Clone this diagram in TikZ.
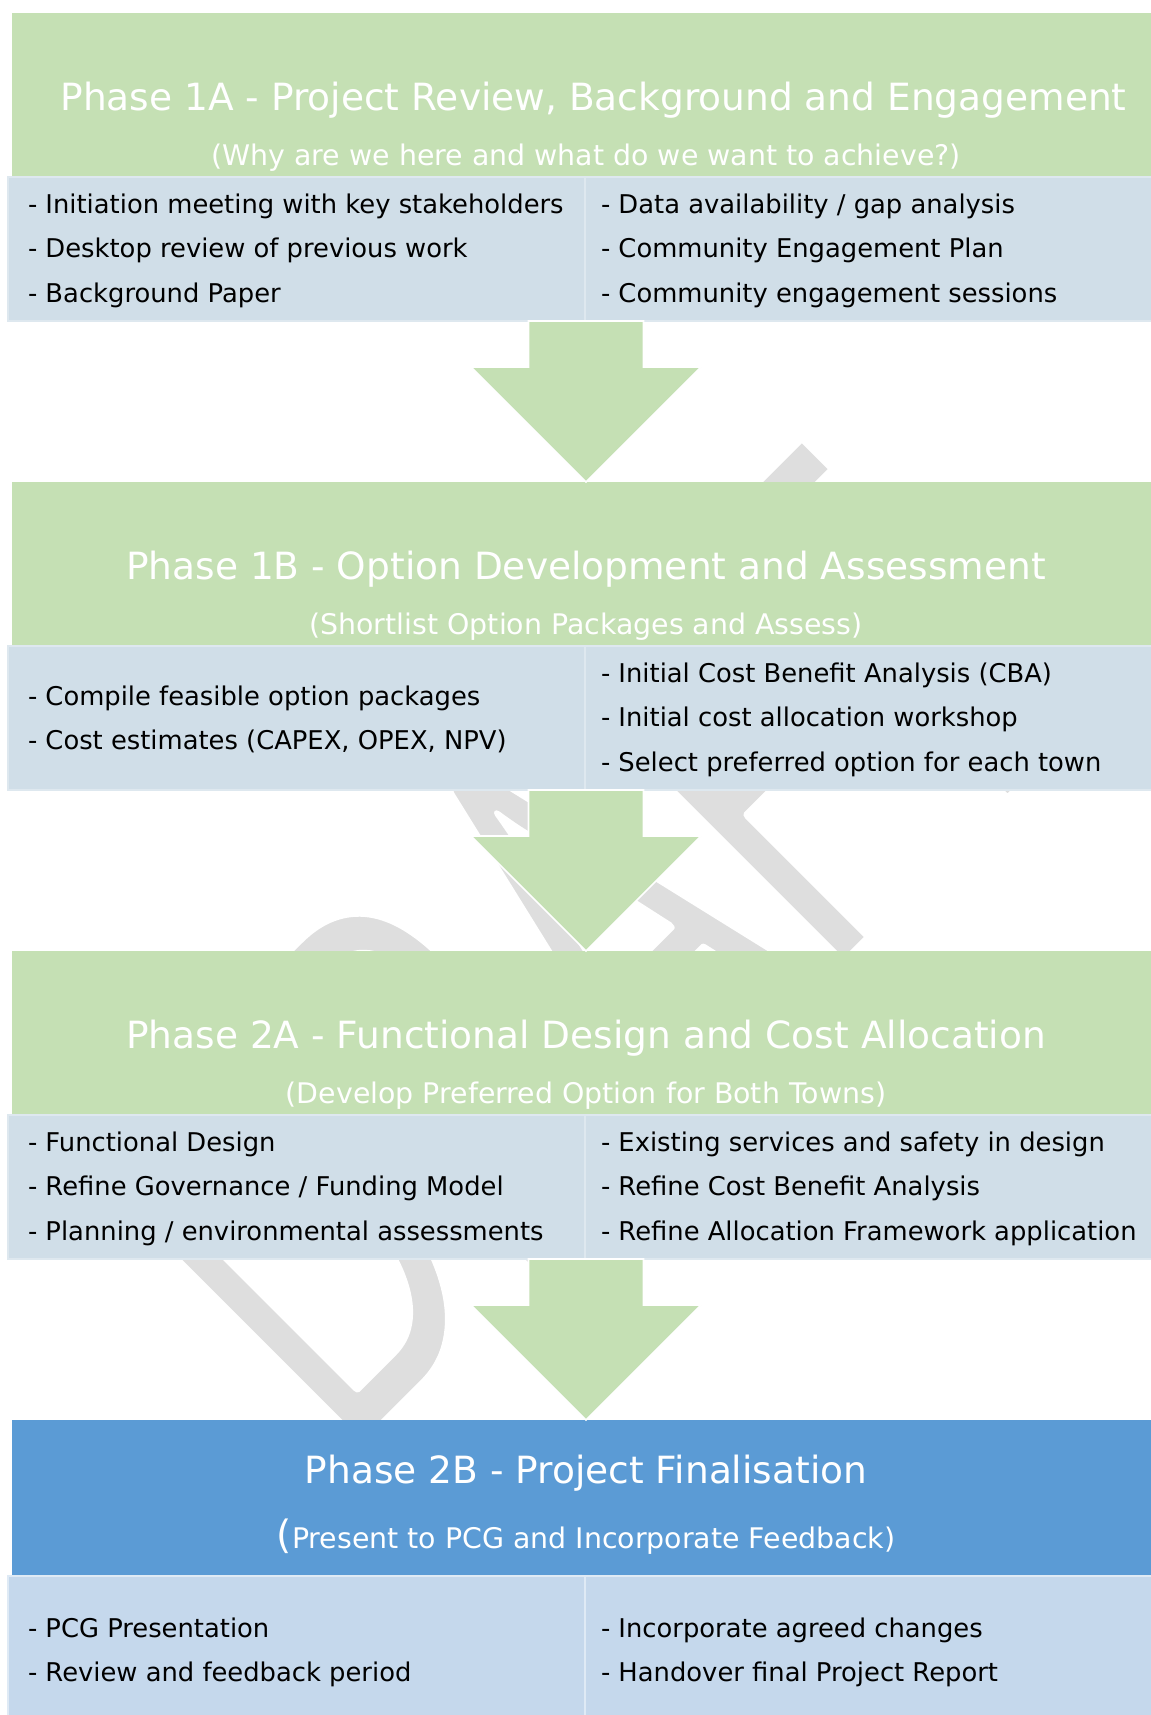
\documentclass[tikz,border=0pt]{standalone}
\usepackage{fontspec}
\usepackage{graphicx}
\setmainfont{DejaVu Sans}
\newfontfamily\draftfont{Carlito}
\usetikzlibrary{positioning,calc}

\definecolor{phasegreen}{HTML}{C5E0B4}
\definecolor{taskblue}{HTML}{D0DEE8}
\definecolor{finalblue}{HTML}{5B9BD5}
\definecolor{finaltask}{HTML}{C5D8EC}
\definecolor{draftgrey}{HTML}{DEDEDE}

% block arrow from the foot of one phase down to the top of the next
\newcommand{\phasearrow}[2]{%
  \path[flow] ($(#1)+(-28.75pt,0pt)$) -- ($(#2)+(-28.75pt,57.5pt)$)
    -- ($(#2)+(-57.5pt,57.5pt)$) -- (#2) -- ($(#2)+(57.5pt,57.5pt)$)
    -- ($(#2)+(28.75pt,57.5pt)$) -- ($(#1)+(28.75pt,0pt)$) -- cycle;
}
% light letters: glyphs filled, then trimmed by a white outline
\newcommand{\lightglyphs}[1]{%
  \special{pdf:literal direct q 1 G 1 j 5 w 2 Tr}#1\special{pdf:literal direct Q}}

\begin{document}
\begin{tikzpicture}[
    x=0.5pt, y=-0.5pt,
    every node/.style={inner sep=0pt, outer sep=0pt},
    phase/.style={fill=#1, minimum width=574pt, minimum height=82pt},
    phase/.default=phasegreen,
    title/.style={anchor=base, text=white, font=\fontsize{18.75}{22}\selectfont},
    subtitle/.style={anchor=base, text=white, font=\fontsize{14.2}{18}\selectfont},
    panel/.style={fill=#1, draw=white!30!#1, line width=0.6pt, minimum height=72pt},
    panel/.default=taskblue,
    tasks/.style={align=left, anchor=west, yshift=-0.75pt, font=\fontsize{12.9}{22.25}\selectfont},
    flow/.style={fill=phasegreen, draw=white, line width=0.8pt},
    draft/.style={text=draftgrey, rotate=45, font=\draftfont\fontsize{314}{314}\selectfont}
]
\useasboundingbox (0,0) rectangle (1151,1715);

% watermark, under everything else
\node[draft] (draft) at (574,949) {\scalebox{0.625}[1]{\lightglyphs{DRAFT}}};

% Phase 1A
\node[phase, anchor=north west] (h1a) at (12,13) {};
\node[title, xshift=3.75pt] (t1a) at ([yshift=-48.75pt]h1a.north) {Phase 1A - Project Review, Background and Engagement};
\node[subtitle] (s1a) at ([yshift=-76.25pt]h1a.north) {(Why are we here and what do we want to achieve?)};
\node[panel, minimum width=288.5pt, below right=0pt and -2pt of h1a.south west] (c1aL) {};
\node[panel, minimum width=287.5pt, right=0pt of c1aL] (c1aR) {};
\node[tasks, right=10pt of c1aL.west] (k1aL) {- Initiation meeting with key stakeholders\\- Desktop review of previous work\\- Background Paper};
\node[tasks, right=8pt of c1aR.west] (k1aR) {- Data availability / gap analysis\\- Community Engagement Plan\\- Community engagement sessions};

% Phase 1B
\node[phase, below right=80.5pt and 2pt of c1aL.south west] (h1b) {};
\node[title] (t1b) at ([yshift=-48.75pt]h1b.north) {Phase 1B - Option Development and Assessment};
\node[subtitle] (s1b) at ([yshift=-76.25pt]h1b.north) {(Shortlist Option Packages and Assess)};
\node[panel, minimum width=288.5pt, below right=0pt and -2pt of h1b.south west] (c1bL) {};
\node[panel, minimum width=287.5pt, right=0pt of c1bL] (c1bR) {};
\node[tasks, right=10pt of c1bL.west] (k1bL) {- Compile feasible option packages\\- Cost estimates (CAPEX, OPEX, NPV)};
\node[tasks, right=8pt of c1bR.west] (k1bR) {- Initial Cost Benefit Analysis (CBA)\\- Initial cost allocation workshop\\- Select preferred option for each town};

% Phase 2A
\node[phase, below right=80.5pt and 2pt of c1bL.south west] (h2a) {};
\node[title] (t2a) at ([yshift=-48.75pt]h2a.north) {Phase 2A - Functional Design and Cost Allocation};
\node[subtitle] (s2a) at ([yshift=-76.25pt]h2a.north) {(Develop Preferred Option for Both Towns)};
\node[panel, minimum width=288.5pt, below right=0pt and -2pt of h2a.south west] (c2aL) {};
\node[panel, minimum width=287.5pt, right=0pt of c2aL] (c2aR) {};
\node[tasks, right=10pt of c2aL.west] (k2aL) {- Functional Design\\- Refine Governance / Funding Model\\- Planning / environmental assessments};
\node[tasks, right=8pt of c2aR.west] (k2aR) {- Existing services and safety in design\\- Refine Cost Benefit Analysis\\- Refine Allocation Framework application};

% Phase 2B
\node[phase=finalblue, minimum height=78pt, below right=80.5pt and 2pt of c2aL.south west] (h2b) {};
\node[title] (t2b) at ([yshift=-31.5pt]h2b.north) {Phase 2B - Project Finalisation};
\node[subtitle] (s2b) at ([yshift=-64pt]h2b.north) {{\fontsize{19.5}{20}\selectfont(}Present to PCG and Incorporate Feedback)};
\node[panel=finaltask, draw=white!45!finaltask, minimum height=75pt, minimum width=288.5pt, below right=0pt and -2pt of h2b.south west] (c2bL) {};
\node[panel=finaltask, draw=white!45!finaltask, minimum height=75pt, minimum width=287.5pt, right=0pt of c2bL] (c2bR) {};
\node[tasks, right=10pt of c2bL.west] (k2bL) {- PCG Presentation\\- Review and feedback period};
\node[tasks, right=8pt of c2bR.west] (k2bR) {- Incorporate agreed changes\\- Handover final Project Report};

% arrows between the phases
\phasearrow{h1a.north |- c1aL.south}{h1b.north}
\phasearrow{h1b.north |- c1bL.south}{h2a.north}
\phasearrow{h2a.north |- c2aL.south}{h2b.north}
\end{tikzpicture}
\end{document}
